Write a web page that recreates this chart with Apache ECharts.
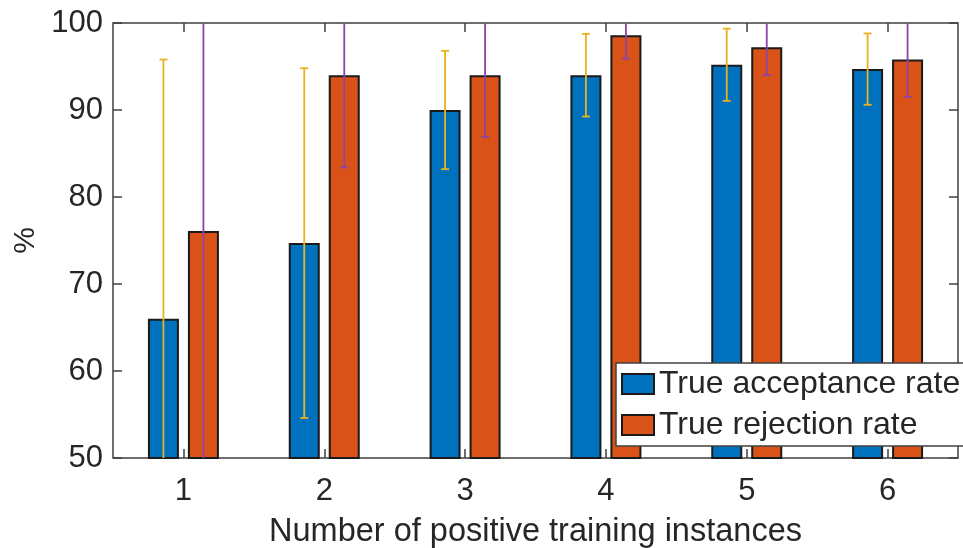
<!DOCTYPE html>
<html>
<head>
<meta charset="utf-8">
<script src="https://cdn.jsdelivr.net/npm/echarts@6/dist/echarts.min.js"></script>
<style>
  html, body { margin: 0; padding: 0; background: #fff; }
  #chart { width: 963px; height: 548px; }
</style>
</head>
<body>
<div id="chart"></div>
<script>
// Number of positive training instances
const categories = ['1', '2', '3', '4', '5', '6'];
// Mean rates (%)
const acceptanceRate = [66.0, 74.7, 90.0, 94.0, 95.2, 94.7];
const rejectionRate = [76.1, 94.0, 94.0, 98.6, 97.2, 95.8];
// Symmetric error (± %) drawn around each bar
const acceptanceErr = [29.8, 20.1, 6.8, 4.75, 4.15, 4.1];
const rejectionErr = [31.0, 10.6, 7.1, 2.7, 3.2, 4.3];
// Y axis ticks
const yTicks = [50, 60, 70, 80, 90, 100];

const FONT = '"Liberation Sans", Arial, Helvetica, sans-serif';
const AXIS_COLOR = '#404040';
const TEXT_COLOR = '#262626';
const BAR_WIDTH = 31;
const BAR_GAP_PX = 9;
const BAR_OFFSET = (BAR_WIDTH + BAR_GAP_PX) / 2;
const CAP_HALF = 4;

function errorSeries(name, values, errs, color, side) {
  return {
    type: 'custom',
    name: name,
    xAxisIndex: 0,
    yAxisIndex: 0,
    z: 5,
    silent: true,
    data: values.map((v, i) => [i, v - errs[i], v + errs[i]]),
    renderItem(params, api) {
      const cs = params.coordSys;
      const i = api.value(0);
      const pLo = api.coord([i, api.value(1)]);
      const pHi = api.coord([i, api.value(2)]);
      const x = pLo[0] + side * BAR_OFFSET;
      const yMin = cs.y, yMax = cs.y + cs.height;
      const top = Math.max(pHi[1], yMin);
      const bot = Math.min(pLo[1], yMax);
      const style = { stroke: color, lineWidth: 1.8, fill: null };
      const children = [{
        type: 'line',
        shape: { x1: x, y1: top, x2: x, y2: bot },
        style: style
      }];
      if (pHi[1] >= yMin) {
        children.push({ type: 'line', shape: { x1: x - CAP_HALF, y1: pHi[1], x2: x + CAP_HALF, y2: pHi[1] }, style: style });
      }
      if (pLo[1] <= yMax) {
        children.push({ type: 'line', shape: { x1: x - CAP_HALF, y1: pLo[1], x2: x + CAP_HALF, y2: pLo[1] }, style: style });
      }
      return { type: 'group', children: children };
    }
  };
}

const chart = echarts.init(document.getElementById('chart'), null, { renderer: 'canvas' });

const tickStyle = { show: true, inside: true, length: 9, alignWithLabel: true, lineStyle: { color: AXIS_COLOR, width: 1.5 } };
const BAR_BORDER = { borderColor: '#1a1a1a', borderWidth: 2 };

chart.setOption({
  animation: false,
  backgroundColor: '#fff',
  textStyle: { fontFamily: FONT },
  grid: {
    show: true, left: 113, right: 5, top: 23, bottom: 90,
    outerBoundsMode: 'none', containLabel: false,
    borderColor: AXIS_COLOR, borderWidth: 1.5, backgroundColor: 'transparent'
  },
  legend: {
    data: [
      { name: 'True acceptance rate', icon: 'rect', itemStyle: Object.assign({ color: '#0072BD' }, BAR_BORDER) },
      { name: 'True rejection rate', icon: 'rect', itemStyle: Object.assign({ color: '#D95319' }, BAR_BORDER) }
    ],
    orient: 'vertical',
    left: 616, top: 363,
    itemWidth: 32, itemHeight: 20, itemGap: 9,
    padding: [5, 40, 5, 5],
    backgroundColor: '#fff',
    borderColor: AXIS_COLOR, borderWidth: 1.5, borderRadius: 0,
    selectedMode: false,
    textStyle: { fontSize: 32, color: TEXT_COLOR, fontFamily: FONT }
  },
  xAxis: [
    {
      type: 'category', data: categories, position: 'bottom',
      axisLine: { show: false },
      axisTick: tickStyle,
      axisLabel: { fontSize: 31, color: TEXT_COLOR, margin: 18, fontFamily: FONT },
      name: 'Number of positive training instances',
      nameLocation: 'middle', nameGap: 58,
      nameTextStyle: { fontSize: 32.5, color: TEXT_COLOR, fontFamily: FONT }
    },
    {
      type: 'category', data: categories, position: 'top',
      axisLine: { show: false }, axisTick: tickStyle, axisLabel: { show: false }
    }
  ],
  yAxis: [
    {
      type: 'value', min: yTicks[0], max: yTicks[yTicks.length - 1], interval: yTicks[1] - yTicks[0],
      position: 'left',
      axisLine: { show: false }, splitLine: { show: false },
      axisTick: tickStyle,
      axisLabel: { fontSize: 31, color: TEXT_COLOR, margin: 10, fontFamily: FONT },
      name: '%', nameLocation: 'middle', nameRotate: 90, nameGap: 67,
      nameTextStyle: { fontSize: 30, color: TEXT_COLOR, fontFamily: FONT }
    },
    {
      type: 'value', min: yTicks[0], max: yTicks[yTicks.length - 1], interval: yTicks[1] - yTicks[0],
      position: 'right',
      axisLine: { show: false }, splitLine: { show: false },
      axisTick: tickStyle, axisLabel: { show: false }
    }
  ],
  series: [
    {
      type: 'bar', name: 'True acceptance rate', data: acceptanceRate,
      xAxisIndex: 0, yAxisIndex: 0,
      barWidth: BAR_WIDTH, barGap: (BAR_GAP_PX / BAR_WIDTH * 100).toFixed(1) + '%',
      itemStyle: Object.assign({ color: '#0072BD' }, BAR_BORDER)
    },
    {
      type: 'bar', name: 'True rejection rate', data: rejectionRate,
      xAxisIndex: 0, yAxisIndex: 0,
      barWidth: BAR_WIDTH,
      itemStyle: Object.assign({ color: '#D95319' }, BAR_BORDER)
    },
    errorSeries('Acceptance error', acceptanceRate, acceptanceErr, '#EDB120', -1),
    errorSeries('Rejection error', rejectionRate, rejectionErr, '#8E44A4', 1)
  ]
});
</script>
</body>
</html>
